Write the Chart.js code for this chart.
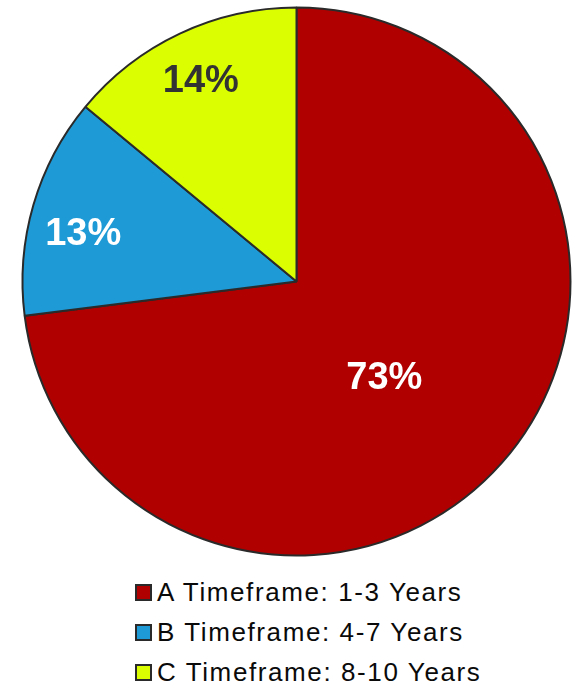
<!DOCTYPE html>
<html>
<head>
<meta charset="utf-8">
<script src="https://cdn.jsdelivr.net/npm/chart.js@4"></script>
<style>
  html, body { margin: 0; padding: 0; background: #ffffff; }
  #wrap { position: relative; width: 577px; height: 689px; }
  #pieBox { position: absolute; left: 0; top: 0; width: 577px; height: 563px; }
  #legend {
    position: absolute; left: 135px; top: 572px;
    font-family: "Liberation Sans", Arial, sans-serif;
    font-size: 26px; letter-spacing: 1.6px; color: #0a0a0a;
  }
  .item { display: flex; align-items: center; height: 40px; white-space: nowrap; }
  .swatch {
    width: 13px; height: 13px; border: 2px solid #2a2a2a;
    margin-right: 5px; flex: none;
  }
</style>
</head>
<body>
<div id="wrap">
  <div id="pieBox"><canvas id="pie"></canvas></div>
  <div id="legend"></div>
</div>
<script>
// Share of items per timeframe (percent)
const categories = ['A Timeframe: 1-3 Years', 'B Timeframe: 4-7 Years', 'C Timeframe: 8-10 Years'];
const shares = [73, 13, 14];

const sliceColors = ['#B00000', '#1E9AD6', '#DBFF00'];
const labelColors = ['#ffffff', '#ffffff', '#333333'];
// where each percentage sits: fraction of the radius and a small angular nudge (degrees)
const labelPlacement = [
  { frac: 0.47, nudge: 5.6 },
  { frac: 0.80, nudge: -2.9 },
  { frac: 0.82, nudge: 0 }
];

const percentLabels = {
  id: 'percentLabels',
  afterDatasetsDraw(chart) {
    const ctx = chart.ctx;
    const meta = chart.getDatasetMeta(0);
    const size = 38;
    ctx.save();
    ctx.font = 'bold ' + size + 'px "Liberation Sans", Arial, sans-serif';
    ctx.textAlign = 'center';
    ctx.textBaseline = 'alphabetic';
    meta.data.forEach((arc, i) => {
      const p = arc.getProps(['x', 'y', 'startAngle', 'endAngle', 'outerRadius'], true);
      const place = labelPlacement[i];
      const a = (p.startAngle + p.endAngle) / 2 + place.nudge * Math.PI / 180;
      const r = p.outerRadius * place.frac;
      const tx = p.x + r * Math.cos(a);
      const ty = p.y + r * Math.sin(a) + size * 0.358;
      ctx.fillStyle = labelColors[i];
      ctx.fillText(chart.data.datasets[0].data[i] + '%', tx, ty);
    });
    ctx.restore();
  }
};

const chart = new Chart(document.getElementById('pie'), {
  type: 'pie',
  data: {
    labels: categories,
    datasets: [{
      data: shares,
      backgroundColor: sliceColors,
      borderColor: '#2a2a2a',
      borderWidth: 2,
      hoverOffset: 0
    }]
  },
  options: {
    responsive: true,
    maintainAspectRatio: false,
    animation: false,
    events: [],
    radius: 274,
    layout: { padding: { left: 16, right: 0, top: 0, bottom: 0 } },
    plugins: {
      legend: { display: false },
      tooltip: { enabled: false }
    }
  },
  plugins: [percentLabels]
});

// Legend built from the chart's own labels and colours
const legendEl = document.getElementById('legend');
chart.data.labels.forEach((label, i) => {
  const row = document.createElement('div');
  row.className = 'item';
  const sw = document.createElement('span');
  sw.className = 'swatch';
  sw.style.background = chart.data.datasets[0].backgroundColor[i];
  const txt = document.createElement('span');
  txt.textContent = label;
  row.appendChild(sw);
  row.appendChild(txt);
  legendEl.appendChild(row);
});
</script>
</body>
</html>
